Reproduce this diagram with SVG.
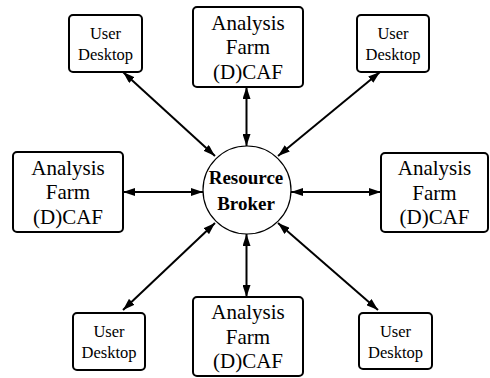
<svg xmlns="http://www.w3.org/2000/svg" width="490" height="378" viewBox="0 0 490 378">
<defs>
<style>
.box{fill:#fff;stroke:#000;stroke-width:2}
.ud{font-family:"Liberation Serif",serif;font-size:16.5px;text-anchor:middle;fill:#000}
.af{font-family:"Liberation Serif",serif;font-size:21px;text-anchor:middle;fill:#000}
.rb{font-family:"Liberation Serif",serif;font-size:19px;font-weight:bold;text-anchor:middle;fill:#000}
.c{stroke:#000;stroke-width:2;fill:none;marker-start:url(#ah);marker-end:url(#ah)}
</style>
<marker id="ah" viewBox="0 0 12 8" refX="12" refY="4" markerWidth="12" markerHeight="8" markerUnits="userSpaceOnUse" orient="auto-start-reverse">
<path d="M0,0 L12,4 L0,8 z" fill="#000"/>
</marker>
</defs>
<rect width="490" height="378" fill="#fff"/>
<g id="connectors">
<line class="c" x1="123" y1="72" x2="215" y2="156"/>
<line class="c" x1="380" y1="72" x2="278" y2="156"/>
<line class="c" x1="123" y1="310" x2="215" y2="223"/>
<line class="c" x1="378" y1="310" x2="278" y2="223"/>
<line class="c" x1="123" y1="192" x2="203" y2="192"/>
<line class="c" x1="381" y1="192" x2="291" y2="192"/>
<line class="c" x1="246.5" y1="87" x2="246.5" y2="146"/>
<line class="c" x1="246.5" y1="297" x2="246.5" y2="234"/>
</g>
<g id="broker">
<circle cx="247" cy="190" r="44" fill="#fff" stroke="#000" stroke-width="1.2"/>
<text class="rb" x="246" y="184">Resource</text>
<text class="rb" x="246" y="210">Broker</text>
</g>
<g id="ud-tl">
<rect class="box" x="69" y="15" width="73" height="57" rx="4"/>
<text class="ud" x="105.5" y="39">User</text>
<text class="ud" x="105.5" y="60">Desktop</text>
</g>
<g id="ud-tr">
<rect class="box" x="357" y="15" width="72" height="57" rx="4"/>
<text class="ud" x="393" y="39">User</text>
<text class="ud" x="393" y="60">Desktop</text>
</g>
<g id="ud-bl">
<rect class="box" x="73" y="313" width="72" height="57" rx="4"/>
<text class="ud" x="109" y="337">User</text>
<text class="ud" x="109" y="358">Desktop</text>
</g>
<g id="ud-br">
<rect class="box" x="359" y="313" width="73" height="56" rx="4"/>
<text class="ud" x="395.5" y="336.5">User</text>
<text class="ud" x="395.5" y="357.5">Desktop</text>
</g>
<g id="af-top">
<rect class="box" x="193" y="7" width="110" height="80" rx="4"/>
<text class="af" x="248" y="29.5">Analysis</text>
<text class="af" x="248" y="54">Farm</text>
<text class="af" x="248" y="78.5">(D)CAF</text>
</g>
<g id="af-left">
<rect class="box" x="13" y="152" width="110" height="80" rx="4"/>
<text class="af" x="68" y="174.5">Analysis</text>
<text class="af" x="68" y="199">Farm</text>
<text class="af" x="68" y="223.5">(D)CAF</text>
</g>
<g id="af-right">
<rect class="box" x="381" y="153" width="107" height="79" rx="4"/>
<text class="af" x="434.5" y="175">Analysis</text>
<text class="af" x="434.5" y="199.5">Farm</text>
<text class="af" x="434.5" y="224">(D)CAF</text>
</g>
<g id="af-bottom">
<rect class="box" x="193" y="297" width="110" height="79" rx="4"/>
<text class="af" x="248" y="319">Analysis</text>
<text class="af" x="248" y="343.5">Farm</text>
<text class="af" x="248" y="368">(D)CAF</text>
</g>
</svg>
